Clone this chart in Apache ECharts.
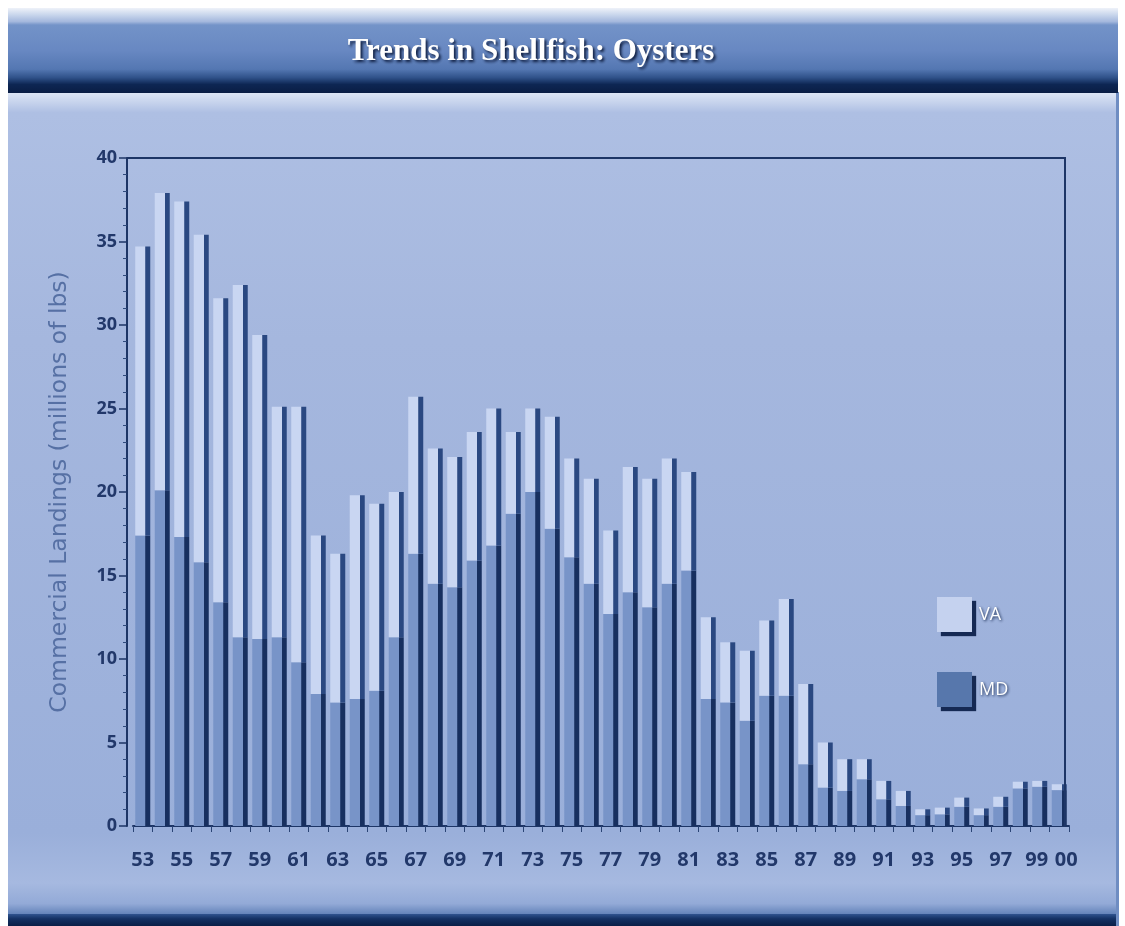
<!DOCTYPE html>
<html>
<head>
<meta charset="utf-8">
<title>Trends in Shellfish: Oysters</title>
<script src="https://cdn.jsdelivr.net/npm/echarts@6/dist/echarts.min.js"></script>
<style>
  html, body { margin: 0; padding: 0; background: #ffffff; }
  #chart { width: 1125px; height: 926px; }
</style>
</head>
<body>
<div id="chart"></div>
<script>
// Commercial oyster landings, millions of lbs, 1953-2000
const years = ['53','54','55','56','57','58','59','60','61','62','63','64','65','66','67','68',
  '69','70','71','72','73','74','75','76','77','78','79','80','81','82','83','84',
  '85','86','87','88','89','90','91','92','93','94','95','96','97','98','99','00'];

// Maryland landings (bottom of each stack)
const mdValues = [17.4, 20.1, 17.3, 15.8, 13.4, 11.3, 11.2, 11.3, 9.8, 7.9, 7.4, 7.6, 8.1, 11.3, 16.3, 14.5,
  14.3, 15.9, 16.8, 18.7, 20.0, 17.8, 16.1, 14.5, 12.7, 14.0, 13.1, 14.5, 15.3, 7.6, 7.4, 6.3,
  7.8, 7.8, 3.7, 2.3, 2.1, 2.8, 1.6, 1.2, 0.65, 0.7, 1.15, 0.65, 1.15, 2.25, 2.35, 2.15];

// Virginia landings (stacked on top)
const vaValues = [17.3, 17.8, 20.1, 19.6, 18.2, 21.1, 18.2, 13.8, 15.3, 9.5, 8.9, 12.2, 11.2, 8.7, 9.4, 8.1,
  7.8, 7.7, 8.2, 4.9, 5.0, 6.7, 5.9, 6.3, 5.0, 7.5, 7.7, 7.5, 5.9, 4.9, 3.6, 4.2,
  4.5, 5.8, 4.8, 2.7, 1.9, 1.2, 1.1, 0.9, 0.35, 0.4, 0.55, 0.4, 0.6, 0.4, 0.35, 0.35];

const yTicks = { min: 0, max: 40, step: 5 };

const chart = echarts.init(document.getElementById('chart'), null, { renderer: 'canvas' });

// plot frame layout
const GRID = { left: 133, top: 158, width: 936, height: 668 };
const AXIS_SHIFT = 6;          // y axis drawn a little left of the first band
const FRAME_RIGHT = GRID.left + GRID.width - 4;
const FRAME_LEFT = GRID.left - AXIS_SHIFT;

// bars: a pale front face with a dark right-hand side for a bevelled look
function faceColor(front, side) {
  return new echarts.graphic.LinearGradient(0, 0, 1, 0, [
    { offset: 0, color: front },
    { offset: 0.66, color: front },
    { offset: 0.69, color: side },
    { offset: 1, color: side }
  ]);
}

const axisInk = '#1d3566';
const labelInk = '#22386a';
const lastIdx = years.length - 1;

const option = {
  animation: false,
  backgroundColor: '#ffffff',
  graphic: [
    // panel body
    { type: 'rect', z: -10, silent: true,
      shape: { x: 8, y: 92, width: 1110, height: 824 },
      style: { fill: new echarts.graphic.LinearGradient(0, 0, 0, 1, [
        { offset: 0, color: '#dfe7f6' },
        { offset: 0.025, color: '#aebfe3' },
        { offset: 0.3, color: '#a5b7de' },
        { offset: 0.9, color: '#9aafda' },
        { offset: 0.96, color: '#a6b9e0' },
        { offset: 0.985, color: '#93aad7' },
        { offset: 1, color: '#5b7cb4' }
      ]) } },
    // bottom dark band
    { type: 'rect', z: -9, silent: true,
      shape: { x: 8, y: 914, width: 1110, height: 12 },
      style: { fill: new echarts.graphic.LinearGradient(0, 0, 0, 1, [
        { offset: 0, color: '#2f538f' },
        { offset: 0.4, color: '#143164' },
        { offset: 1, color: '#0a1f47' }
      ]) } },
    // right edge shade
    { type: 'rect', z: -9, silent: true,
      shape: { x: 1116, y: 92, width: 3, height: 834 },
      style: { fill: '#6f8dc2' } },
    // title band
    { type: 'rect', z: -8, silent: true,
      shape: { x: 8, y: 8, width: 1110, height: 85 },
      style: { fill: new echarts.graphic.LinearGradient(0, 0, 0, 1, [
        { offset: 0, color: '#eef2f9' },
        { offset: 0.08, color: '#c9d6ec' },
        { offset: 0.16, color: '#a4b8dd' },
        { offset: 0.2, color: '#7393c8' },
        { offset: 0.5, color: '#6888c2' },
        { offset: 0.72, color: '#5477b2' },
        { offset: 0.82, color: '#2f5189' },
        { offset: 0.9, color: '#0d2653' },
        { offset: 1, color: '#0a1d44' }
      ]) } },
    // top and right edges of the plot frame
    { type: 'polyline', z: 5, silent: true,
      shape: { points: [[FRAME_LEFT, GRID.top], [FRAME_RIGHT, GRID.top], [FRAME_RIGHT, GRID.top + GRID.height]] },
      style: { stroke: axisInk, lineWidth: 2, fill: null } }
  ],
  title: {
    text: 'Trends in Shellfish: Oysters',
    left: 526,
    top: 31,
    textAlign: 'center',
    textStyle: {
      color: '#ffffff',
      fontFamily: 'Liberation Serif',
      fontWeight: 'bold',
      fontSize: 31,
      textShadowColor: 'rgba(8,22,55,0.95)',
      textShadowBlur: 3,
      textShadowOffsetX: 2,
      textShadowOffsetY: 2
    }
  },
  legend: {
    orient: 'vertical',
    left: 932,
    top: 592,
    itemWidth: 35,
    itemHeight: 35,
    itemGap: 40,
    icon: 'rect',
    selectedMode: false,
    data: [
      { name: 'VA', itemStyle: { color: '#c5d2ef', shadowColor: 'rgba(14,34,76,0.95)', shadowBlur: 1, shadowOffsetX: 4, shadowOffsetY: 4 } },
      { name: 'MD', itemStyle: { color: '#5777ac', shadowColor: 'rgba(14,34,76,0.95)', shadowBlur: 1, shadowOffsetX: 4, shadowOffsetY: 4 } }
    ],
    textStyle: {
      color: '#ffffff',
      fontFamily: 'Open Sans',
      fontSize: 18,
      padding: [0, 0, 0, 2],
      textShadowColor: 'rgba(10,28,66,0.95)',
      textShadowBlur: 3,
      textShadowOffsetX: 1,
      textShadowOffsetY: 1
    }
  },
  grid: { left: GRID.left, top: GRID.top, width: GRID.width, height: GRID.height, containLabel: false },
  xAxis: {
    type: 'category',
    data: years,
    axisLine: { lineStyle: { color: axisInk, width: 2 } },
    axisTick: { show: true, length: 6, interval: 0, lineStyle: { color: '#2a4475', width: 1 } },
    axisLabel: {
      interval: (i) => i % 2 === 0 || i === lastIdx,
      showMinLabel: true,
      showMaxLabel: true,
      formatter: (value, i) => i === lastIdx ? '{tail|' + value + '}' : (i === lastIdx - 1 ? '{pre|' + value + '}' : value),
      rich: {
        pre: { padding: [0, 6, 0, 0], color: labelInk, fontFamily: 'Open Sans', fontWeight: 'bold', fontSize: 20 },
        tail: { padding: [0, 0, 0, 14], color: labelInk, fontFamily: 'Open Sans', fontWeight: 'bold', fontSize: 20 }
      },
      color: labelInk,
      fontFamily: 'Open Sans',
      fontWeight: 'bold',
      fontSize: 20,
      margin: 24
    },
    splitLine: { show: false }
  },
  yAxis: {
    type: 'value',
    min: yTicks.min,
    max: yTicks.max,
    interval: yTicks.step,
    offset: AXIS_SHIFT,
    name: 'Commercial Landings (millions of lbs)',
    nameLocation: 'middle',
    nameRotate: 90,
    nameGap: 55,
    nameTextStyle: { color: '#5670a4', fontFamily: 'DejaVu Sans', fontSize: 23.5 },
    axisLine: { show: true, lineStyle: { color: axisInk, width: 2 } },
    axisTick: { show: true, length: 8, lineStyle: { color: axisInk, width: 1.5 } },
    minorTick: { show: true, splitNumber: 5, length: 4, lineStyle: { color: '#2f4a7c', width: 1 } },
    axisLabel: { color: labelInk, fontFamily: 'Open Sans', fontWeight: 'bold', fontSize: 18, margin: 10 },
    splitLine: { show: false }
  },
  series: [
    {
      name: 'MD',
      type: 'bar',
      stack: 'landings',
      data: mdValues,
      barWidth: 15,
      itemStyle: { color: faceColor('#7894c8', '#172f5f') }
    },
    {
      name: 'VA',
      type: 'bar',
      stack: 'landings',
      data: vaValues,
      barWidth: 15,
      itemStyle: { color: faceColor('#c9d6f2', '#2a4881') }
    }
  ]
};

chart.setOption(option);
</script>
</body>
</html>
